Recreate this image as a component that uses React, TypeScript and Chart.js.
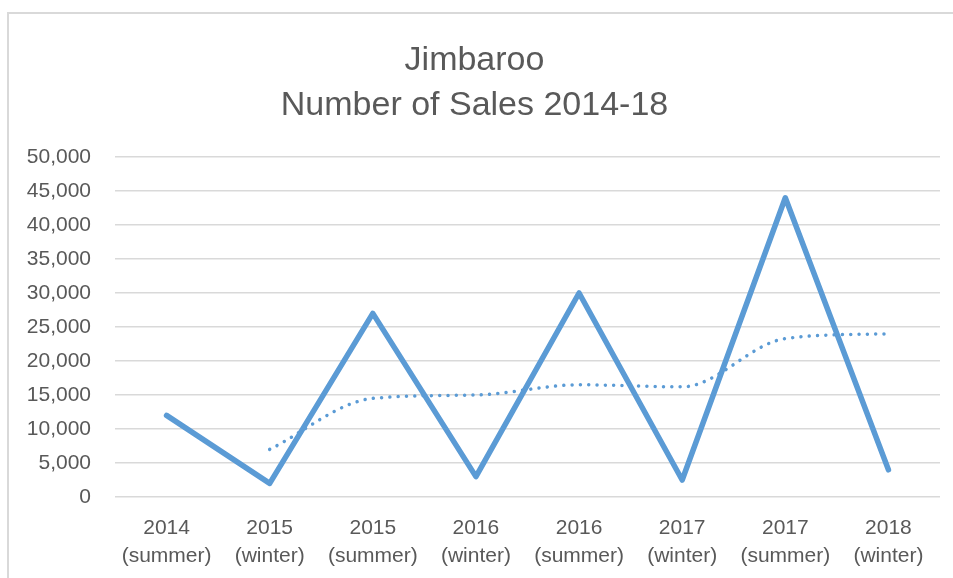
import React, { useEffect, useRef } from "react";
import { Chart, registerables } from "chart.js";

Chart.register(...registerables);

const categories: string[][] = [
  ["2014", "(summer)"],
  ["2015", "(winter)"],
  ["2015", "(summer)"],
  ["2016", "(winter)"],
  ["2016", "(summer)"],
  ["2017", "(winter)"],
  ["2017", "(summer)"],
  ["2018", "(winter)"],
];
const sales: number[] = [12000, 2000, 27000, 3000, 30000, 2500, 44000, 4000];
const trend: (number | null)[] = [null, 7000, 14500, 15000, 16500, 16200, 23300, 24000];
const titleLines: string[] = ["Jimbaroo", "Number of Sales 2014-18"];
const yMin = 0;
const yMax = 50000;
const yStep = 5000;

const BLUE = "#5B9BD5";
const TEXT = "#595959";
const GRID = "#D9D9D9";
const FONT = "'Liberation Sans', Arial, sans-serif";

export default function App() {
  const ref = useRef<HTMLCanvasElement | null>(null);

  useEffect(() => {
    if (!ref.current) return;
    const chart = new Chart(ref.current, {
      type: "line",
      data: {
        labels: categories,
        datasets: [
          {
            label: "Sales",
            data: sales,
            borderColor: BLUE,
            backgroundColor: BLUE,
            borderWidth: 5.5,
            borderCapStyle: "round",
            borderJoinStyle: "round",
            pointRadius: 0,
            tension: 0,
          },
          {
            label: "Trend",
            data: trend,
            borderColor: BLUE,
            backgroundColor: BLUE,
            borderWidth: 3.5,
            borderCapStyle: "round",
            borderDash: [0.01, 8.3],
            pointRadius: 0,
            cubicInterpolationMode: "monotone",
          },
        ],
      },
      options: {
        animation: false,
        responsive: true,
        maintainAspectRatio: false,
        layout: { padding: { left: 0, right: 13, top: 0, bottom: 0 } },
        plugins: {
          legend: { display: false },
          tooltip: { enabled: false },
          title: {
            display: true,
            text: titleLines,
            color: TEXT,
            font: { family: FONT, size: 34, weight: "normal", lineHeight: "45px" },
            padding: { top: 24.5, bottom: 28.5 },
          },
        },
        scales: {
          x: {
            offset: true,
            grid: { display: false, drawTicks: false },
            border: { display: false },
            ticks: {
              color: TEXT,
              padding: 17,
              maxRotation: 0,
              autoSkip: false,
              font: { family: FONT, size: 21, lineHeight: "28px" },
            },
            afterFit: (s: any) => {
              s.height = 81;
            },
          },
          y: {
            min: yMin,
            max: yMax,
            grid: { color: GRID, lineWidth: 1.5, drawTicks: false },
            border: { display: false },
            ticks: {
              stepSize: yStep,
              color: TEXT,
              padding: 24,
              font: { family: FONT, size: 21 },
              callback: (v: any) => Number(v).toLocaleString("en-US"),
            },
            afterFit: (s: any) => {
              s.width = 106;
            },
          },
        },
      },
    });
    return () => chart.destroy();
  }, []);

  return (
    <div
      style={{
        position: "absolute",
        left: 7,
        top: 12,
        width: 946,
        height: 566,
        boxSizing: "border-box",
        borderLeft: `2px solid ${GRID}`,
        borderTop: `2px solid ${GRID}`,
        background: "#fff",
      }}
    >
      <div style={{ position: "relative", width: 944, height: 564 }}>
        <canvas ref={ref} />
      </div>
    </div>
  );
}
